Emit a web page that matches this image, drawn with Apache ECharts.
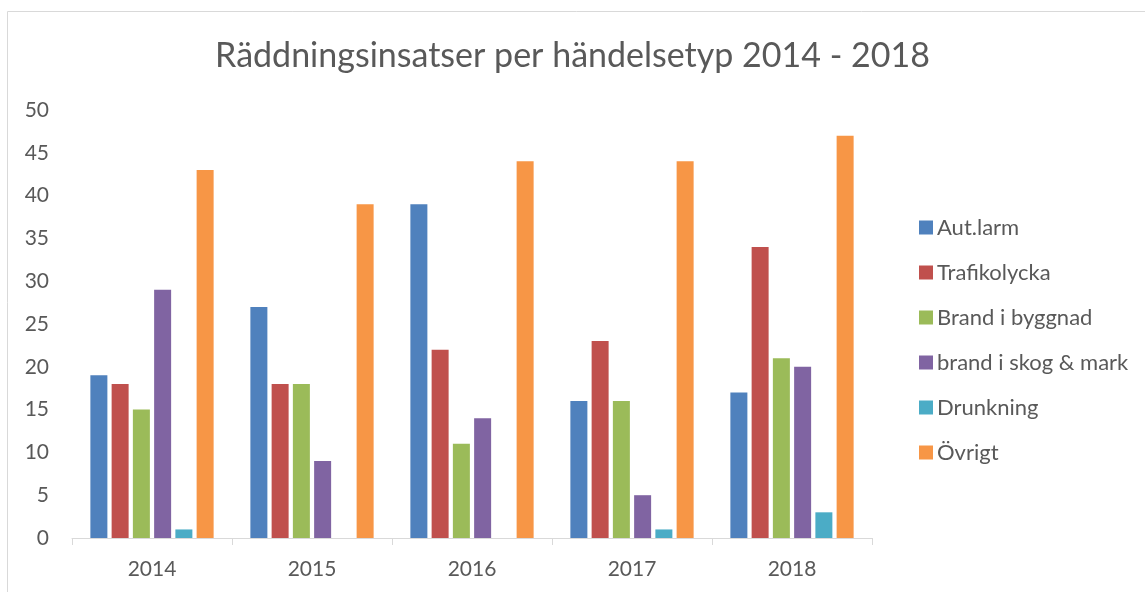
<!DOCTYPE html>
<html>
<head>
<meta charset="utf-8">
<script src="https://cdn.jsdelivr.net/npm/echarts@6/dist/echarts.min.js"></script>
<style>
  html, body { margin: 0; padding: 0; background: #fff; }
  #chart { width: 1145px; height: 592px; }
</style>
</head>
<body>
<div id="chart"></div>
<script>
const years = ["2014", "2015", "2016", "2017", "2018"];
const autLarm = [19, 27, 39, 16, 17];
const trafikolycka = [18, 18, 22, 23, 34];
const brandByggnad = [15, 18, 11, 16, 21];
const brandSkog = [29, 9, 14, 5, 20];
const drunkning = [1, 0, 0, 1, 3];
const ovrigt = [43, 39, 44, 44, 47];

const seriesNames = ["Aut.larm", "Trafikolycka", "Brand i byggnad", "brand i skog & mark", "Drunkning", "Övrigt"];
const seriesData = [autLarm, trafikolycka, brandByggnad, brandSkog, drunkning, ovrigt];
const colors = ["#4f81bd", "#c0504d", "#9bbb59", "#8064a2", "#4bacc6", "#f79646"];

const font = "Lato, 'Open Sans', sans-serif";
const textColor = "#595959";

const chart = echarts.init(document.getElementById("chart"));
chart.setOption({
  animation: false,
  color: colors,
  title: {
    text: "Räddningsinsatser per händelsetyp 2014 - 2018",
    left: "center",
    top: 34,
    textStyle: { fontFamily: font, fontSize: 34, fontWeight: "normal", color: textColor },
  },
  graphic: [
    {
      type: "rect",
      shape: { x: 7.5, y: 11.5, width: 1200, height: 700 },
      style: { fill: "none", stroke: "#d9d9d9", lineWidth: 1 },
      silent: true,
    },
  ],
  legend: {
    orient: "vertical",
    left: 914,
    top: 211,
    itemWidth: 14,
    itemHeight: 14,
    itemGap: 22,
    icon: "rect",
    textStyle: { fontFamily: font, fontSize: 22, color: textColor, lineHeight: 23, padding: [0, 0, 0, -1] },
  },
  grid: { left: 72, right: 273, top: 110, bottom: 54 },
  xAxis: {
    type: "category",
    data: years,
    axisLine: { lineStyle: { color: "#d9d9d9", width: 1 } },
    axisTick: { show: true, length: 7, lineStyle: { color: "#d9d9d9" } },
    axisLabel: { fontFamily: font, fontSize: 21, color: textColor, margin: 21 },
  },
  yAxis: {
    type: "value",
    min: 0,
    max: 50,
    interval: 5,
    splitLine: { show: false },
    axisLine: { show: false },
    axisTick: { show: false },
    axisLabel: { fontFamily: font, fontSize: 21, color: textColor, margin: 23 },
  },
  series: seriesNames.map((name, i) => ({
    name,
    type: "bar",
    data: seriesData[i],
    barWidth: 17,
    barGap: "25%",
    barCategoryGap: "24%",
  })),
});
</script>
</body>
</html>
